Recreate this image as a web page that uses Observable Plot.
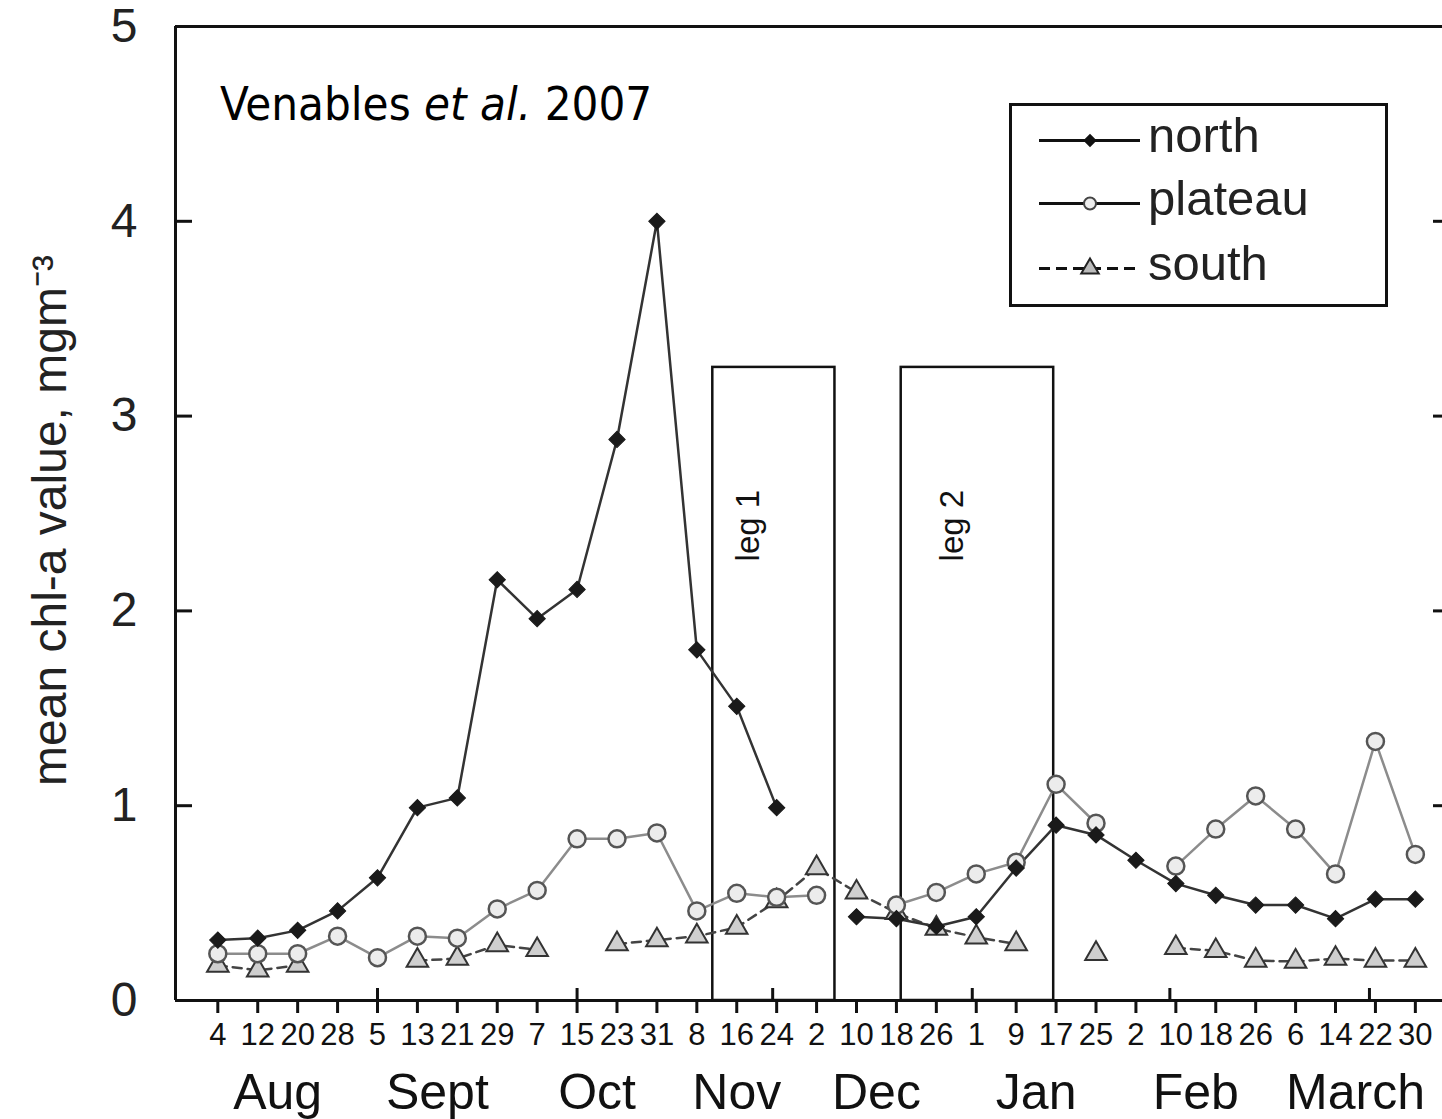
<!DOCTYPE html>
<html>
<head>
<meta charset="utf-8">
<script src="https://cdn.jsdelivr.net/npm/d3@7"></script>
<script src="https://cdn.jsdelivr.net/npm/@observablehq/plot@0.6"></script>
<style>
  body { margin: 0; background: #fff; }
  #wrap { position: relative; width: 1442px; height: 1119px; overflow: hidden; background: #fff;
          font-family: "Liberation Sans", Arial, sans-serif; color: #111; }
  #cite { position: absolute; left: 220px; top: 80px; font-family: "DejaVu Sans Condensed", "DejaVu Sans", sans-serif;
          font-stretch: condensed; font-size: 47px; line-height: 1; white-space: nowrap; color: #000; }
  #legbox { position: absolute; left: 1009px; top: 103px; width: 379px; height: 204px;
            border: 3px solid #111; box-sizing: border-box; background: #fff; }
  .legtx { position: absolute; left: 1148px; font-size: 49px; line-height: 1; white-space: nowrap; color: #222; }
</style>
</head>
<body>
<div id="wrap"></div>
<script>
// ---- data ----
const dayLabels = [4, 12, 20, 28, 5, 13, 21, 29, 7, 15, 23, 31, 8, 16, 24, 2, 10, 18, 26, 1, 9, 17, 25, 2, 10, 18, 26, 6, 14, 22, 30];
const months = ["Aug", "Sept", "Oct", "Nov", "Dec", "Jan", "Feb", "March"];
const monthTickCounts = [4, 4, 4, 3, 4, 4, 4, 4];
const north   = [0.31, 0.32, 0.36, 0.46, 0.63, 0.99, 1.04, 2.16, 1.96, 2.11, 2.88, 4.0, 1.80, 1.51, 0.99, null, 0.43, 0.42, 0.38, 0.43, 0.68, 0.90, 0.85, 0.72, 0.60, 0.54, 0.49, 0.49, 0.42, 0.52, 0.52];
const plateau = [0.24, 0.24, 0.24, 0.33, 0.22, 0.33, 0.32, 0.47, 0.565, 0.83, 0.83, 0.86, 0.46, 0.55, 0.53, 0.54, null, 0.49, 0.555, 0.65, 0.71, 1.11, 0.91, null, 0.69, 0.88, 1.05, 0.88, 0.65, 1.33, 0.75];
const south   = [0.18, 0.155, 0.18, null, null, 0.205, 0.215, 0.285, 0.26, null, 0.29, 0.31, 0.33, 0.375, 0.51, 0.68, 0.555, 0.45, 0.37, 0.325, 0.29, null, 0.24, null, 0.27, 0.255, 0.205, 0.20, 0.215, 0.205, 0.205];
const legNames = ["leg 1", "leg 2"];
const legStart = [12.4, 17.12];
const legEnd = [15.46, 20.94];
const legTop = [3.25, 3.25];
const yTicks = [0, 1, 2, 3, 4, 5];
const yInnerTicks = [1, 2, 3, 4];
const xInnerTicks = [4, 9, 13.9, 18.9, 23.85, 28.85];
const seriesNames = ["north", "plateau", "south"];
const citation = ["Venables ", "et al.", " 2007"];
const yLabel = "mean chl-a value, mgm\u207B\u00B3";

// ---- derived tables ----
const rows = dayLabels.map((d, i) => ({i, north: north[i], plateau: plateau[i], south: south[i]}));
let acc = 0;
const monthRows = months.map((m, k) => {
  const first = acc; acc += monthTickCounts[k];
  return {name: m, mid: (first + acc - 1) / 2};
});
const legs = legNames.map((n, k) => ({name: n, start: legStart[k], end: legEnd[k], top: legTop[k]}));
const xDomain = [-1.06, 30.68];

const styles = {
  north:   {line: {stroke: "#333", strokeWidth: 2.5}, dot: {symbol: "square", rotate: 45, r: 6.5, fill: "#1a1a1a", stroke: "#1a1a1a", strokeWidth: 1}},
  plateau: {line: {stroke: "#8c8c8c", strokeWidth: 2.5}, dot: {symbol: "circle", r: 8.5, fill: "#ececec", stroke: "#555", strokeWidth: 2.5}},
  south:   {line: {stroke: "#444", strokeWidth: 2.5, strokeDasharray: "9,6"}, dot: {symbol: "triangle", r: 8, fill: "#cfcfcf", stroke: "#333", strokeWidth: 2}}
};

const chart = Plot.plot({
  width: 1442,
  height: 1119,
  marginLeft: 175,
  marginRight: 0,
  marginTop: 26,
  marginBottom: 119,
  style: {fontFamily: "'Liberation Sans', Arial, sans-serif", color: "#111", background: "transparent", position: "absolute", left: "0px", top: "0px"},
  x: {type: "linear", domain: xDomain, label: null},
  y: {domain: [0, 5], label: null},
  marks: [
    // frame
    Plot.ruleY([0, 5], {strokeWidth: 3, stroke: "#111"}),
    Plot.ruleX([xDomain[0]], {strokeWidth: 3, stroke: "#111"}),
    // y axis labels and inward ticks
    Plot.axisY({ticks: yTicks, tickFormat: d => String(d), tickSize: 0, tickPadding: 38, fontSize: 48, label: null, fill: "#222"}),
    Plot.axisY({ticks: yInnerTicks, tickSize: 17, dx: 17, tickFormat: () => "", label: null, strokeWidth: 3}),
    Plot.axisY({anchor: "right", ticks: yInnerTicks, tickSize: 10, dx: -10, tickFormat: () => "", label: null, strokeWidth: 3}),
    // x axis: day labels, outward ticks; inward ticks
    Plot.axisX({ticks: d3.range(dayLabels.length), tickFormat: i => String(dayLabels[i]), tickSize: 13, tickPadding: 9, fontSize: 31, label: null, strokeWidth: 3, fill: "#111"}),
    Plot.axisX({ticks: xInnerTicks, tickSize: 12, dy: -12, tickFormat: () => "", label: null, strokeWidth: 3}),
    // month labels
    Plot.text(monthRows, {x: "mid", text: "name", frameAnchor: "bottom", textAnchor: "middle", lineAnchor: "top", dy: 73, fontSize: 50, fill: "#111"}),
    // y label
    Plot.text([yLabel], {frameAnchor: "left", textAnchor: "middle", rotate: -90, dx: -125, dy: 7, fontSize: 48, fill: "#222"}),
    // cruise legs
    Plot.rect(legs, {x1: "start", x2: "end", y1: 0, y2: "top", fill: "none", stroke: "#111", strokeWidth: 2.5}),
    Plot.text(legs, {x: d => (d.start + d.end) / 2, y: d => d.top * 0.75, text: "name", rotate: -90, dx: -25, fontSize: 33, fill: "#111"}),
    // series lines
    Plot.line(rows, {x: "i", y: "south", ...styles.south.line}),
    Plot.line(rows, {x: "i", y: "plateau", ...styles.plateau.line}),
    Plot.line(rows, {x: "i", y: "north", ...styles.north.line}),
    // series markers
    Plot.dot(rows, {x: "i", y: "south", ...styles.south.dot}),
    Plot.dot(rows, {x: "i", y: "plateau", ...styles.plateau.dot}),
    Plot.dot(rows, {x: "i", y: "north", ...styles.north.dot})
  ]
});

const wrap = document.getElementById("wrap");
wrap.appendChild(chart);

// citation text
const cite = document.createElement("div");
cite.id = "cite";
cite.appendChild(document.createTextNode(citation[0]));
const it = document.createElement("i");
it.textContent = citation[1];
cite.appendChild(it);
cite.appendChild(document.createTextNode(citation[2]));
wrap.appendChild(cite);

// legend
const box = document.createElement("div");
box.id = "legbox";
wrap.appendChild(box);
const rowCenters = [140, 203, 268];
const legendDot = {
  north: {symbol: "square", rotate: 45, r: 4.5, fill: "#111", stroke: "#111"},
  plateau: {symbol: "circle", r: 6, fill: "#eee", stroke: "#444", strokeWidth: 2},
  south: {symbol: "triangle", r: 6.5, fill: "#bbb", stroke: "#222", strokeWidth: 2}
};
seriesNames.forEach((s, k) => {
  const sw = Plot.plot({
    width: 101, height: 30, margin: 0, axis: null,
    x: {domain: [0, 1]}, y: {domain: [0, 1]},
    style: {background: "transparent", position: "absolute", left: "1039px", top: (rowCenters[k] - 15) + "px"},
    marks: [
      Plot.ruleY([0.5], {stroke: "#111", strokeWidth: 3, strokeDasharray: s === "south" ? "11,6" : null}),
      Plot.dot([{x: 0.5, y: 0.5}], {x: "x", y: "y", ...legendDot[s]})
    ]
  });
  wrap.appendChild(sw);
  const tx = document.createElement("div");
  tx.className = "legtx";
  tx.textContent = s;
  tx.style.top = (rowCenters[k] - 29) + "px";
  wrap.appendChild(tx);
});
</script>
</body>
</html>
